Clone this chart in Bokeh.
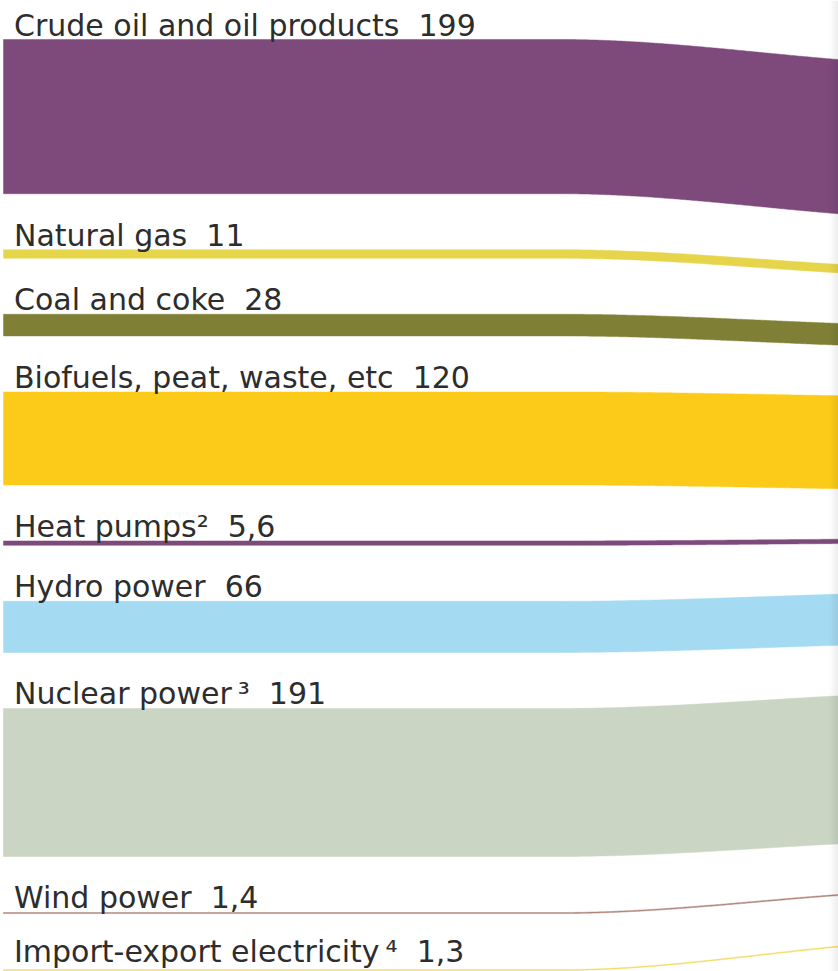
import numpy as np
from bokeh.plotting import figure
from bokeh.models import Range1d, ColumnDataSource
from bokeh.core.properties import value
from bokeh.embed import file_html
from bokeh.resources import INLINE

# Total energy supply by source, TWh
sources = [
    "Crude oil and oil products",
    "Natural gas",
    "Coal and coke",
    "Biofuels, peat, waste, etc",
    "Heat pumps",
    "Hydro power",
    "Nuclear power",
    "Wind power",
    "Import-export electricity",
]
footnotes = ["", "", "", "", "\u00b2", "", "\u2009\u00b3", "", "\u2009\u2074"]
supply_twh = [199, 11, 28, 120, 5.6, 66, 191, 1.4, 1.3]
colors = [
    "#7e4a7c",  # crude oil
    "#e6d54a",  # natural gas
    "#7f8035",  # coal and coke
    "#fccb1a",  # biofuels
    "#7e4a7c",  # heat pumps
    "#a5daf3",  # hydro
    "#cad5c3",  # nuclear
    "#b0857a",  # wind
    "#f5dc6a",  # import-export
]

# ---- layout -------------------------------------------------------------
W, H = 838, 971
PX_PER_TWH = 0.775            # band thickness scale
Y_MAX = H / PX_PER_TWH        # vertical extent in TWh units
GAP_LEFT = 56 / PX_PER_TWH    # spacing between bands at the source side
GAP_RIGHT = 49 / PX_PER_TWH   # spacing between bands where they converge
TOP_LEFT = 39 / PX_PER_TWH
TOP_RIGHT = 64.8 / PX_PER_TWH
X_START = 3
BEND_START, BEND_LEN = 560, 400
TEXT_X = 13.5
TEXT_LIFT = 14.5 / PX_PER_TWH
TEXT_FLOOR = Y_MAX - 20 / PX_PER_TWH   # keeps descenders inside the canvas
NBSP = "\u00a0"


def fmt(v):
    return f"{v:g}".replace(".", ",")


def stack(start, gap):
    tops, y = [], start
    for v in supply_twh:
        tops.append(y)
        y += v + gap
    return tops


left_tops = stack(TOP_LEFT, GAP_LEFT)
right_tops = stack(TOP_RIGHT, GAP_RIGHT)

p = figure(
    width=W, height=H,
    x_range=Range1d(0, W), y_range=Range1d(Y_MAX, 0),
    output_backend="svg", toolbar_location=None, min_border=0,
    x_axis_type=None, y_axis_type=None,
    outline_line_color=None,
    background_fill_color="white", border_fill_color="white",
)
p.grid.visible = False

# flow bands: straight from the left, easing towards their targets on the right
xs = np.arange(X_START, W + 12, 2.0)
u = np.clip((xs - BEND_START) / BEND_LEN, 0, 1)
ease = 3 * u**2 - 2 * u**3

for v, c, tl, tr in zip(supply_twh, colors, left_tops, right_tops):
    top = tl + (tr - tl) * ease
    bottom = top + v
    p.patch(
        np.concatenate([xs, xs[::-1]]),
        np.concatenate([top, bottom[::-1]]),
        fill_color=c, line_color=c, line_width=0.5,
    )

# labels above each band
labels = [f"{s}{n}{NBSP}{NBSP}{fmt(v)}" for s, n, v in zip(sources, footnotes, supply_twh)]
label_src = ColumnDataSource(dict(
    x=[TEXT_X] * len(labels),
    y=[min(t - TEXT_LIFT, TEXT_FLOOR) for t in left_tops],
    text=labels,
))
p.text(
    x="x", y="y", text="text", source=label_src,
    text_font=value("DejaVu Sans"), text_font_size="30px",
    text_color="#2d2d2d", text_baseline="alphabetic", text_align="left",
)

# soft shading along the right edge of the sheet
n = 12
edge = ColumnDataSource(dict(
    left=[W - n + i for i in range(n)],
    right=[W - n + i + 1 for i in range(n)],
    alpha=[0.075 * ((i + 1) / n) ** 1.6 for i in range(n)],
))
p.quad(left="left", right="right", top=0, bottom=Y_MAX, source=edge,
       fill_color="black", fill_alpha="alpha", line_color=None)

open("out.html", "w").write(file_html(p, INLINE))
